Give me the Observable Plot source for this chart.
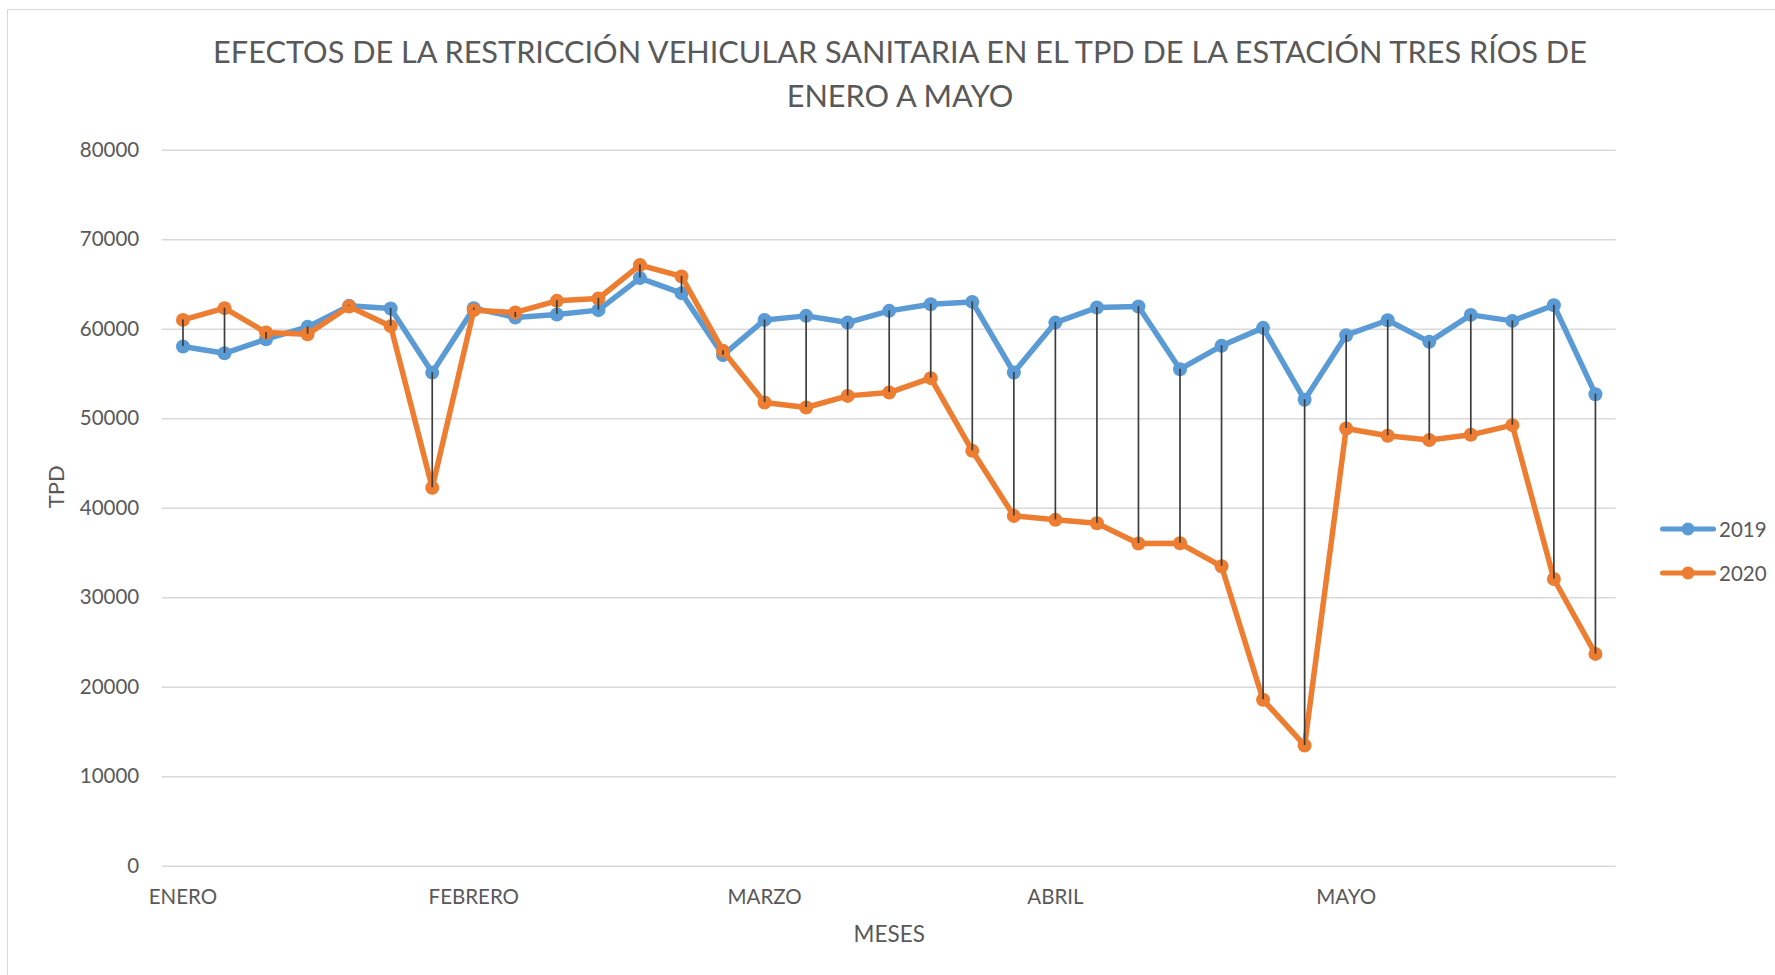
<!DOCTYPE html>
<html>
<head>
<meta charset="utf-8">
<script src="https://cdn.jsdelivr.net/npm/d3@7"></script>
<script src="https://cdn.jsdelivr.net/npm/@observablehq/plot@0.6"></script>
<style>
  body { margin: 0; background: #fff; font-family: Lato, "Open Sans", sans-serif; }
  #wrap { position: relative; width: 1775px; height: 975px; overflow: hidden; background: #fff; }
  #frame { position: absolute; left: 7px; top: 8.5px; width: 1820px; height: 1020px; border: 1.5px solid #d9d9d9; box-sizing: border-box; }
  #title { position: absolute; left: 0; top: 29.5px; width: 1800px; text-align: center; font-size: 30.7px; line-height: 44px; color: #595959; }
  #chart { position: absolute; left: 0; top: 120px; }
  .leg { position: absolute; left: 1660px; height: 24px; display: flex; align-items: center; font-size: 20.5px; color: #595959; }
  .leg svg { margin-right: 3px; }
</style>
</head>
<body>
<div id="wrap">
  <div id="frame"></div>
  <div id="title">EFECTOS DE LA RESTRICCIÓN VEHICULAR SANITARIA EN EL TPD DE LA ESTACIÓN TRES RÍOS DE<br>ENERO A MAYO</div>
  <div id="chart"></div>
  <div id="legend"></div>
</div>
<script>
// ---- data ----
const semanas = [1,2,3,4,5,6,7,8,9,10,11,12,13,14,15,16,17,18,19,20,21,22,23,24,25,26,27,28,29,30,31,32,33,34,35];
const meses = ["ENERO", "FEBRERO", "MARZO", "ABRIL", "MAYO"];
const semanaMes = [1, 8, 15, 22, 29];
const series = ["2019", "2020"];
const colores = ["#5B9BD5", "#ED7D31"];
const tpd2019 = [58060, 57310, 58880, 60260, 62610, 62310, 55150, 62350, 61310, 61640, 62130, 65710, 64030, 57100,
                 61040, 61490, 60740, 62050, 62790, 63050, 55160, 60740, 62420, 62530, 55530, 58140, 60150, 52110,
                 59330, 61000, 58590, 61600, 60930, 62680, 52740];
const tpd2020 = [61040, 62350, 59630, 59440, 62540, 60340, 42280, 62130, 61870, 63170, 63430, 67160, 65900, 57580,
                 51810, 51250, 52550, 52920, 54530, 46410, 39140, 38700, 38320, 36050, 36080, 33510, 18590, 13490,
                 48910, 48090, 47610, 48200, 49280, 32090, 23720];
const yTicks = [0, 10000, 20000, 30000, 40000, 50000, 60000, 70000, 80000];

const rows = semanas.map((s, i) => ({semana: s, v2019: tpd2019[i], v2020: tpd2020[i]}));
const valores = [tpd2019, tpd2020];

const marks = [
  Plot.gridY(yTicks, {stroke: "#d9d9d9", strokeOpacity: 1, strokeWidth: 1.5}),
  Plot.axisY(yTicks, {tickSize: 0, tickPadding: 23, label: null, tickFormat: d => String(d), fontSize: 20.5}),
  Plot.axisX(semanaMes, {tickSize: 0, tickPadding: 23, label: null, tickFormat: d => meses[semanaMes.indexOf(d)], fontSize: 20.5})
];
series.forEach((s, k) => {
  const data = semanas.map((w, i) => ({semana: w, tpd: valores[k][i]}));
  marks.push(Plot.line(data, {x: "semana", y: "tpd", stroke: colores[k], strokeWidth: 5.5, strokeLinejoin: "round", strokeLinecap: "round"}));
  marks.push(Plot.dot(data, {x: "semana", y: "tpd", r: 7, fill: colores[k], stroke: "none"}));
});
marks.push(Plot.ruleX(rows, {x: "semana", y1: "v2019", y2: "v2020", stroke: "#3d3d3d", strokeWidth: 1.7}));
marks.push(Plot.text(["TPD"], {text: d => d, frameAnchor: "left", rotate: -90, dx: -105, fontSize: 22, fill: "#595959"}));
marks.push(Plot.text(["MESES"], {text: d => d, frameAnchor: "bottom", lineAnchor: "top", dy: 60, fontSize: 22.5, fill: "#595959"}));

const chart = Plot.plot({
  width: 1775,
  height: 855,
  marginLeft: 161.7,
  marginRight: 159.3,
  marginTop: 29.7,
  marginBottom: 109.3,
  style: {fontFamily: "Lato, 'Open Sans', sans-serif", color: "#595959", background: "transparent", overflow: "visible"},
  x: {type: "point", domain: semanas, padding: 0.5, align: 0.5, round: false},
  y: {domain: [0, 80000]},
  marks
});
document.getElementById("chart").appendChild(chart);

// ---- legend ----
const legend = document.getElementById("legend");
const legendY = [529.3, 572.7];
series.forEach((s, k) => {
  const row = document.createElement("div");
  row.className = "leg";
  row.style.top = (legendY[k] - 12) + "px";
  row.innerHTML = `<svg width="56" height="16"><line x1="2.5" y1="8" x2="53.5" y2="8" stroke="${colores[k]}" stroke-width="5" stroke-linecap="round"/><circle cx="28" cy="8" r="6.5" fill="${colores[k]}"/></svg><span>${s}</span>`;
  legend.appendChild(row);
});
</script>
</body>
</html>
